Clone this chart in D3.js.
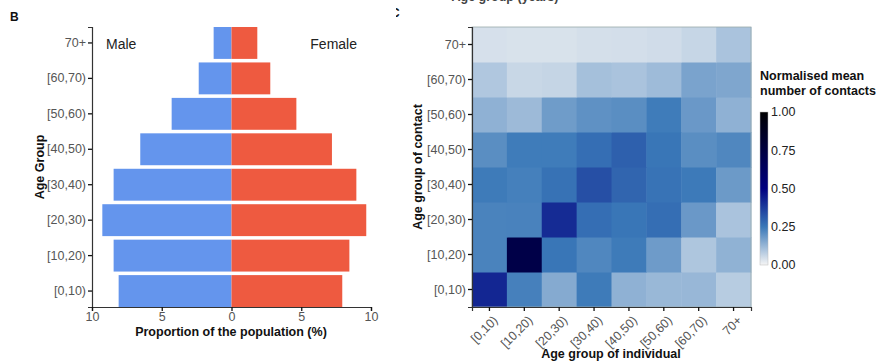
<!DOCTYPE html>
<html><head><meta charset="utf-8">
<script src="https://cdn.jsdelivr.net/npm/d3@7"></script>
<style>
body{margin:0;background:#fff;}
text{font-family:"Liberation Sans",Arial,Helvetica,sans-serif;}
</style></head>
<body><svg id="c" width="878" height="362"></svg>
<script>
// ---- data ----
const ageGroups = ["[0,10)","[10,20)","[20,30)","[30,40)","[40,50)","[50,60)","[60,70)","70+"];
const maleValues   = [8.09, 8.45, 9.26, 8.45, 6.54, 4.29, 2.35, 1.28];
const femaleValues = [7.94, 8.45, 9.66, 8.95, 7.20, 4.65, 2.78, 1.85];
const popTicks = [-10, -5, 0, 5, 10];
// contact matrix: rows = age group of contact, columns = age group of individual
const contactRows = ageGroups;
const contactCols = ageGroups;
const contactValues = [
  [0.42, 0.234, 0.15, 0.244, 0.136, 0.123, 0.124, 0.083],   // contact [0,10)
  [0.229, 0.72, 0.255, 0.22, 0.245, 0.18, 0.095, 0.135],    // [10,20)
  [0.229, 0.23, 0.41, 0.27, 0.255, 0.27, 0.186, 0.10],      // [20,30)
  [0.245, 0.235, 0.262, 0.335, 0.29, 0.26, 0.246, 0.183],   // [30,40)
  [0.207, 0.243, 0.243, 0.27, 0.30, 0.255, 0.207, 0.22],    // [40,50)
  [0.136, 0.118, 0.179, 0.20, 0.207, 0.243, 0.186, 0.136],  // [50,60)
  [0.092, 0.06, 0.064, 0.107, 0.10, 0.116, 0.164, 0.158],   // [60,70)
  [0.042, 0.039, 0.039, 0.044, 0.046, 0.05, 0.063, 0.10]    // 70+
];
const legendTicks = [0, 0.25, 0.5, 0.75, 1];

const svg = d3.select("#c");
const tickCol = "#555";

// ---------- Panel B: population pyramid ----------
const x = d3.scaleLinear().domain([-10, 10]).range([92, 371]);
const y = d3.scaleBand().domain(ageGroups.slice().reverse()).range([27, 307]).paddingInner(0.1).paddingOuter(0);

const g = svg.append("g");
g.selectAll("rect.m").data(ageGroups).join("rect")
  .attr("x", (d,i) => x(-maleValues[i])).attr("y", d => y(d))
  .attr("width", (d,i) => x(0) - x(-maleValues[i])).attr("height", y.bandwidth())
  .attr("fill", "#6495ED");
g.selectAll("rect.f").data(ageGroups).join("rect")
  .attr("x", x(0)).attr("y", d => y(d))
  .attr("width", (d,i) => x(femaleValues[i]) - x(0)).attr("height", y.bandwidth())
  .attr("fill", "#EE5A40");

const yAx = g.append("g").attr("transform", "translate(92,0)")
  .call(d3.axisLeft(y).tickSize(4).tickPadding(2));
const xAx = g.append("g").attr("transform", "translate(0,307)")
  .call(d3.axisBottom(x).tickValues(popTicks).tickFormat(d => Math.abs(d)).tickSize(4).tickPadding(1));
[yAx, xAx].forEach(a => {
  a.select(".domain").attr("stroke", "#333").attr("stroke-width", 1.2);
  a.selectAll(".tick line").attr("stroke", "#111").attr("stroke-width", 1.3);
  a.selectAll(".tick text").attr("fill", tickCol).style("font-size", "12.5px");
});
g.append("text").attr("x", 231).attr("y", 336).attr("text-anchor", "middle")
  .style("font-size", "12.5px").style("font-weight", "bold").attr("fill", "#111")
  .text("Proportion of the population (%)");
g.append("text").attr("transform", "translate(44,167) rotate(-90)").attr("text-anchor", "middle")
  .style("font-size", "12.5px").style("font-weight", "bold").attr("fill", "#111").text("Age Group");
g.append("text").attr("x", 106).attr("y", 49).style("font-size", "14px").attr("fill", "#222").text("Male");
g.append("text").attr("x", 357).attr("y", 49).attr("text-anchor", "end").style("font-size", "14px").attr("fill", "#222").text("Female");
g.append("text").attr("x", 10).attr("y", 21).style("font-size", "12px").style("font-weight", "bold").attr("fill", "#111").text("B");

// ---------- Panel C: contact heatmap ----------
const clip = svg.append("defs").append("clipPath").attr("id", "cc");
clip.append("rect").attr("x", 396).attr("y", 0).attr("width", 482).attr("height", 362);
svg.append("text").attr("x", 391).attr("y", 17).attr("clip-path", "url(#cc)")
  .style("font-size", "12px").style("font-weight", "bold").attr("fill", "#111").text("C");
svg.append("text").attr("x", 505).attr("y", 1).attr("text-anchor", "middle")
  .style("font-size", "12.5px").style("font-weight", "bold").attr("fill", "#444").text("Age group (years)");

const hx = d3.scaleBand().domain(contactCols).range([472, 751]);
const hy = d3.scaleBand().domain(contactRows.slice().reverse()).range([27, 307]);
const color = d3.scaleLinear().domain([0, 0.25, 0.5, 1])
  .range(["#f5f5f5", "#3a78b8", "#000080", "#000000"]).clamp(true);

const cells = [];
contactValues.forEach((row, i) => row.forEach((v, j) => cells.push({r: contactRows[i], c: contactCols[j], v})));
const h = svg.append("g");
h.selectAll("rect.cell").data(cells).join("rect")
  .attr("x", d => hx(d.c)).attr("y", d => hy(d.r))
  .attr("width", hx.bandwidth() + 0.5).attr("height", hy.bandwidth() + 0.5)
  .attr("fill", d => color(d.v));
h.append("rect").attr("x", 472).attr("y", 27).attr("width", 279).attr("height", 280)
  .attr("fill", "none").attr("stroke", "#9aa").attr("stroke-width", 0.8);

const hyAx = h.append("g").attr("transform", "translate(472,0)")
  .call(d3.axisLeft(hy).tickSize(4).tickPadding(2));
const hxAx = h.append("g").attr("transform", "translate(0,307)")
  .call(d3.axisBottom(hx).tickSize(4).tickPadding(2));
[hyAx, hxAx].forEach(a => {
  a.select(".domain").attr("stroke", "#333").attr("stroke-width", 1.2);
  a.selectAll(".tick line").attr("stroke", "#111").attr("stroke-width", 1.3);
  a.selectAll(".tick text").attr("fill", tickCol).style("font-size", "12.5px");
});
hxAx.selectAll(".tick text").attr("text-anchor", "end").attr("x", 0).attr("y", 0).attr("dy", "0.35em")
  .attr("transform", "translate(6,11) rotate(-45)");
h.append("text").attr("x", 611).attr("y", 358).attr("text-anchor", "middle")
  .style("font-size", "12.5px").style("font-weight", "bold").attr("fill", "#111").text("Age group of individual");
h.append("text").attr("transform", "translate(422,167) rotate(-90)").attr("text-anchor", "middle")
  .style("font-size", "12.5px").style("font-weight", "bold").attr("fill", "#111").text("Age group of contact");

// legend
const lg = svg.append("g");
lg.append("text").attr("x", 760).attr("y", 80).style("font-size", "12.5px").style("font-weight", "bold").attr("fill", "#111").text("Normalised mean");
lg.append("text").attr("x", 760).attr("y", 95).style("font-size", "12.5px").style("font-weight", "bold").attr("fill", "#111").text("number of contacts");
const ly = d3.scaleLinear().domain([0, 1]).range([265, 112]);
const grad = svg.select("defs").append("linearGradient").attr("id", "lgrad")
  .attr("x1", 0).attr("y1", 1).attr("x2", 0).attr("y2", 0);
d3.range(0, 1.0001, 0.05).forEach(t => grad.append("stop").attr("offset", t).attr("stop-color", color(t)));
lg.append("rect").attr("x", 760).attr("y", ly(1)).attr("width", 8).attr("height", ly(0) - ly(1))
  .attr("fill", "url(#lgrad)").attr("stroke", "#bbb").attr("stroke-width", 0.5);
lg.selectAll("text.lt").data(legendTicks).join("text").attr("class", "lt")
  .attr("x", 771).attr("y", d => ly(d)).attr("dy", "0.35em")
  .style("font-size", "12.5px").attr("fill", "#222").text(d => d.toFixed(2));
</script></body></html>
